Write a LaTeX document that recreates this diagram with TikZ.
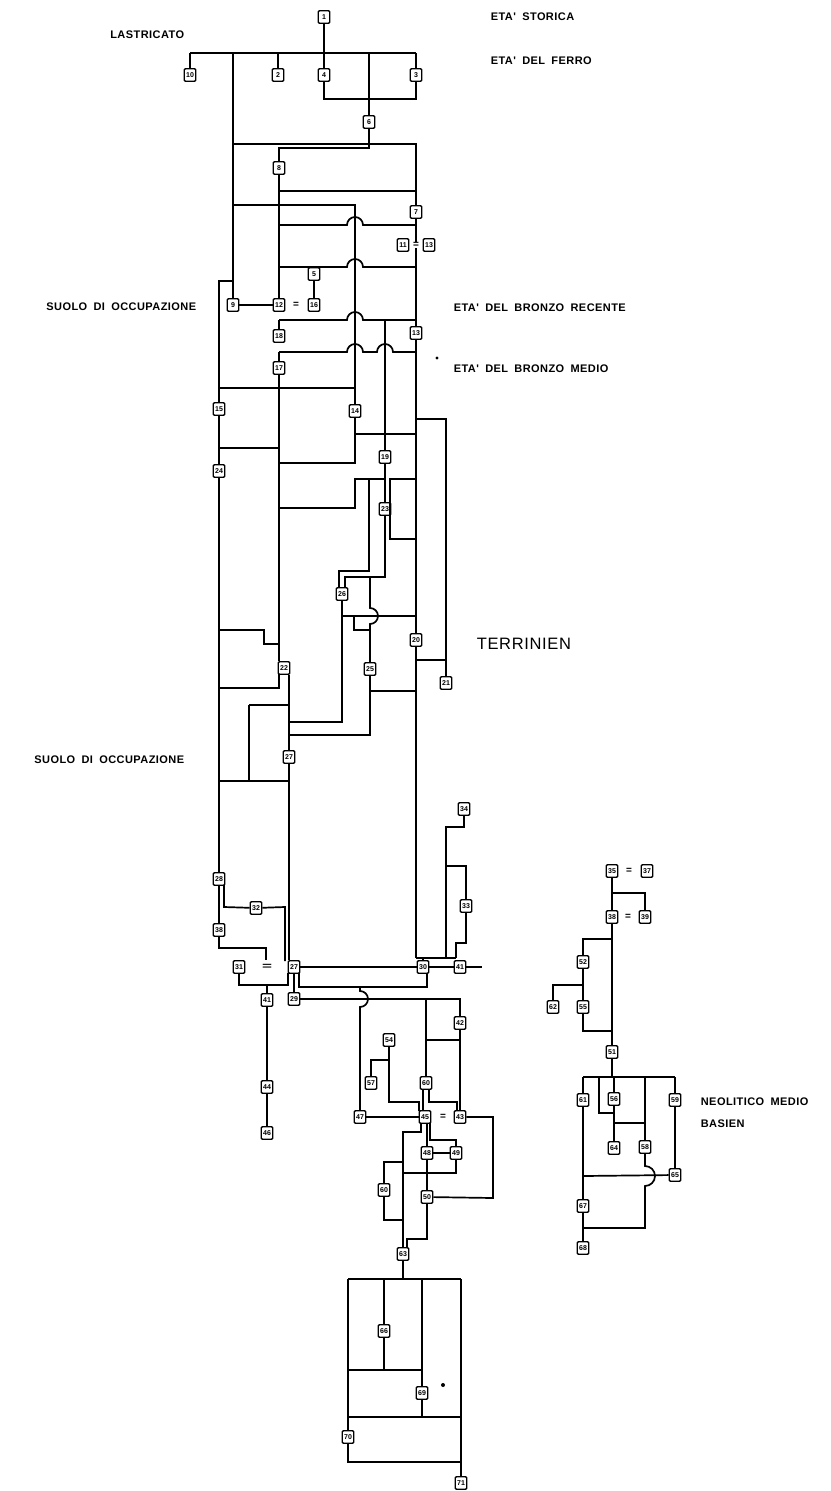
\documentclass[tikz,border=0pt]{standalone}
\usepackage{fontspec}
\usepackage{graphicx}
\setmainfont{Liberation Sans}
\newfontfamily\lblfont{Liberation Sans}[LetterSpace=4,WordSpace=1.8]
\tikzset{
  unit/.style={draw,line width=1.4pt,rounded corners=1.2pt,minimum width=11.5pt,
               minimum height=12.5pt,inner sep=0.6pt,
               font=\bfseries\fontsize{7}{7}\selectfont},
  eqsign/.style={inner sep=0pt,font=\bfseries\fontsize{10}{10}\selectfont},
  period/.style={inner sep=0pt,font=\lblfont\bfseries\fontsize{11}{12}\selectfont},
  culture/.style={inner sep=0pt,anchor=west,font=\lblfont\fontsize{16.5}{18}\selectfont}
}
\begin{document}
\begin{tikzpicture}[x=1pt,y=-1pt,line width=1.7pt]
    \path[use as bounding box] (0,0) rectangle (830,1491);
    \node[period,anchor=east] (lastr) at (185,35) {LASTRICATO};
    \node[period,anchor=west] (stor) at (490,17) {ETA' STORICA};
    \node[period,anchor=west] (ferro) at (490,61) {ETA' DEL FERRO};
    \node[period,anchor=east] (suolo1) at (197,307) {SUOLO DI OCCUPAZIONE};
    \node[period,anchor=west] (brrec) at (453,308) {ETA' DEL BRONZO RECENTE};
    \node[period,anchor=west] (brmed) at (453,369) {ETA' DEL BRONZO MEDIO};
    \node[culture] (terr) at (476,644) {TERRINIEN};
    \node[period,anchor=east] (suolo2) at (185,760) {SUOLO DI OCCUPAZIONE};
    \node[period,anchor=west] (neol) at (700,1102) {NEOLITICO MEDIO};
    \node[period,anchor=west] (basien) at (700,1124) {BASIEN};
    \fill (437,358) circle (1.6);
    \fill (443,1385) circle (2);

    \node[unit] (u1) at (324,17) {1};
    \node[unit] (u10) at (190,75) {10};
    \node[unit] (u2) at (278,75) {2};
    \node[unit] (u4) at (324,75) {4};
    \node[unit] (u3) at (416,75) {3};
    \node[unit] (u6) at (369,122) {6};
    \node[unit] (u8) at (279,168) {8};
    \node[unit] (u7) at (416,212) {7};
    \node[unit] (u11) at (403,245) {11};
    \node[eqsign] (e1) at (416,245) {=};
    \node[unit] (u13) at (429,245) {13};
    \node[unit] (u5) at (314,274) {5};
    \node[unit] (u9) at (233,305) {9};
    \node[unit] (u12) at (279,305) {12};
    \node[eqsign] (e2) at (296,305) {=};
    \node[unit] (u16) at (314,305) {16};
    \node[unit] (u13b) at (416,333) {13};
    \node[unit] (u18) at (279,336) {18};
    \node[unit] (u17) at (279,368) {17};
    \node[unit] (u15) at (219,409) {15};
    \node[unit] (u14) at (355,411) {14};
    \node[unit] (u19) at (385,457) {19};
    \node[unit] (u24) at (219,471) {24};
    \node[unit] (u23) at (385,509) {23};
    \node[unit] (u26) at (342,594) {26};
    \node[unit] (u20) at (416,640) {20};
    \node[unit] (u22) at (284,668) {22};
    \node[unit] (u25) at (370,669) {25};
    \node[unit] (u21) at (446,683) {21};
    \node[unit] (u27) at (289,757) {27};
    \node[unit] (u34) at (464,809) {34};
    \node[unit] (u28) at (219,879) {28};
    \node[unit] (u33) at (466,906) {33};
    \node[unit] (u32) at (256,908) {32};
    \node[unit] (u38) at (219,930) {38};
    \node[unit] (u31) at (239,967) {31};
    \node[eqsign] (e3) at (267,967) {\scalebox{1.7}[1]{=}};
    \node[unit] (u27b) at (294,967) {27};
    \node[unit] (u30) at (423,967) {30};
    \node[unit] (u41) at (460,967) {41};
    \node[unit] (u41b) at (267,1000) {41};
    \node[unit] (u29) at (294,999) {29};
    \node[unit] (u42) at (460,1023) {42};
    \node[unit] (u54) at (389,1040) {54};
    \node[unit] (u40) at (426,1083) {60};
    \node[unit] (u57) at (371,1083) {57};
    \node[unit] (u44) at (267,1087) {44};
    \node[unit] (u47) at (360,1117) {47};
    \node[unit] (u45) at (425,1117) {45};
    \node[eqsign] (e4) at (443,1117) {=};
    \node[unit] (u43) at (460,1117) {43};
    \node[unit] (u46) at (267,1133) {46};
    \node[unit] (u48) at (427,1153) {48};
    \node[unit] (u49) at (456,1153) {49};
    \node[unit] (u60) at (384,1190) {60};
    \node[unit] (u50) at (427,1197) {50};
    \node[unit] (u63) at (403,1254) {63};
    \node[unit] (u66) at (384,1331) {66};
    \node[unit] (u69) at (422,1393) {69};
    \node[unit] (u70) at (348,1437) {70};
    \node[unit] (u71) at (461,1483) {71};

    \node[unit] (u35) at (612,871) {35};
    \node[eqsign] (e5) at (629,871) {=};
    \node[unit] (u37) at (647,871) {37};
    \node[unit] (u38r) at (612,917) {38};
    \node[eqsign] (e6) at (628,917) {=};
    \node[unit] (u39) at (645,917) {39};
    \node[unit] (u52) at (583,962) {52};
    \node[unit] (u62) at (553,1007) {62};
    \node[unit] (u55) at (583,1007) {55};
    \node[unit] (u51) at (612,1052) {51};
    \node[unit] (u61) at (583,1100) {61};
    \node[unit] (u56) at (614,1099) {56};
    \node[unit] (u59) at (675,1100) {59};
    \node[unit] (u64) at (614,1148) {64};
    \node[unit] (u58) at (645,1147) {58};
    \node[unit] (u65) at (675,1175) {65};
    \node[unit] (u67) at (583,1206) {67};
    \node[unit] (u68) at (583,1248) {68};

    \draw (u1) -- (u4);
    \draw (190,53) -- (416,53);
    \draw (190,53) -- (u10);
    \draw (278,53) -- (u2);
    \draw (416,53) -- (u3);
    \draw (369,53) -- (u6);
    \draw (u4) -- (324,99) -| (u3);
    \draw (233,53) -- (u9);
    \draw (233,144) -- (416,144) -- (u7);
    \draw (u6) -- (369,148) -| (u8);
    \draw (u8) -- (u12);
    \draw (279,191) -- (416,191);
    \draw (233,205) -| (u14);
    \draw (279,225) -- (347,225) arc (180:360:8) -- (416,225);
    \draw (u7) -- (e1);
    \draw (e1) -- (u13b);
    \draw (279,267) -- (347,267) arc (180:360:8) -- (416,267);
    \draw (314,267) -- (u5);
    \draw (u5) -- (u16);
    \draw (u9) -- (u12);
    \draw (233,281) -| (u15);
    \draw (279,320) -- (347,320) arc (180:360:8) -- (416,320);
    \draw (279,320) -- (u18);
    \draw (385,320) -- (u19);
    \draw (279,352) -- (347,352) arc (180:360:8) -- (377,352) arc (180:360:8) -- (416,352);
    \draw (279,352) -- (u17);
    \draw (u13b) -- (u20);
    \draw (u20) -- (416,958);
    \draw (u17) -- (u17 |- u22.north);
    \draw (219,388) -- (355,388);
    \draw (u15) -- (u24);
    \draw (219,448) -- (279,448);
    \draw (u14) -- (355,463) -- (279,463);
    \draw (355,434) -- (416,434);
    \draw (416,419) -| (u21);
    \draw (u19) -- (u23);
    \draw (385,479) -- (355,479) -- (355,508) -- (279,508);
    \draw (416,479) -- (390,479) -- (390,539) -- (416,539);
    \draw (369,479) -- (369,571) -- (339,571) -- (339,588);
    \draw (u23) -- (385,577) -- (345,577) -- (345,588);
    \draw (370,577) -- (370,608) arc (-90:90:8) -- (u25);
    \draw (u26) -- (342,722) -- (289,722);
    \draw (342,616) -- (416,616);
    \draw (354,616) -- (354,630) -- (370,630);
    \draw (416,660) -- (446,660);
    \draw (219,630) -- (264,630) -- (264,644) -- (279,644);
    \draw (279,674) -- (279,688) -- (219,688);
    \draw (u22.south -| u27) -- (u27);
    \draw (249,705) -- (289,705);
    \draw (249,705) -- (249,781);
    \draw (219,781) -- (289,781);
    \draw (u25) -- (370,735) -- (289,735);
    \draw (370,691) -- (416,691);
    \draw (u24) -- (u28);
    \draw (u27) -- (u27 |- u27b.north);
    \draw (u28) -- (u38);
    \draw (224,885) -- (224,907) -- (u32);
    \draw (u32) -- (285,907) -- (285,961);
    \draw (u38) -- (219,948) -- (266,948) -- (266,960);
    \draw (u31) -- (239,985) -- (288,985) -- (288,973);
    \draw (267,985) -- (u41b);
    \draw (u41b) -- (u44);
    \draw (u44) -- (u46);
    \draw (u27b) -- (u30);
    \draw (u30) -- (u41);
    \draw (u41.east) -- ++(16,0);
    \draw (416,958) -- (456,958);
    \draw (423,958) -- (u30);
    \draw (u34) -- (464,827) -- (446,827) -- (446,958);
    \draw (446,866) -- (466,866) -- (u33);
    \draw (u33) -- (466,943) -- (456,943) -- (456,958);
    \draw (427,973) -- (427,987) -- (299,987) -- (299,973);
    \draw (u27b) -- (u29);
    \draw (u29) -- (460,999) -- (u42);
    \draw (426,999) -- (u40);
    \draw (u42) -- (u43);
    \draw (460,1040) -- (426,1040);
    \draw (423,1089) -- (423,1111);
    \draw (429,1089) -- (429,1102) -- (457,1102) -- (457,1111);
    \draw (u54) -- (389,1102) -- (419,1102) -- (419,1111);
    \draw (389,1060) -- (371,1060) -- (u57);
    \draw (u47) -- (u45);
    \draw (u47) -- (360,1007) arc (90:-90:8) -- (360,987);
    \draw (u43) -- (493,1117) -- (493,1198) -- (u50);
    \draw (421,1123) -- (421,1132) -- (403,1132) -- (u63);
    \draw (u48 |- u45.south) -- (u48);
    \draw (430,1123) -- (430,1140) -- (456,1140) -- (u49);
    \draw (u48) -- (u49);
    \draw (u49) -- (456,1173) -- (403,1173);
    \draw (u48) -- (u50);
    \draw (403,1162) -- (384,1162) -- (u60);
    \draw (u60) -- (384,1220) -- (403,1220);
    \draw (u50) -- (427,1239) -- (407,1239) -- (407,1248);
    \draw (u63) -- (403,1279);
    \draw (348,1279) -- (461,1279);
    \draw (348,1279) -- (u70);
    \draw (384,1279) -- (u66);
    \draw (u66) -- (384,1370);
    \draw (422,1279) -- (u69);
    \draw (461,1279) -- (u71);
    \draw (348,1370) -- (422,1370);
    \draw (u69) -- (422,1417);
    \draw (348,1417) -- (461,1417);
    \draw (u70) -- (348,1462) -- (461,1462);

    \draw (u35) -- (u38r);
    \draw (612,893) -- (645,893) -- (u39);
    \draw (u38r) -- (u51);
    \draw (612,939) -- (583,939) -- (u52);
    \draw (u52) -- (u55);
    \draw (583,985) -- (553,985) -- (u62);
    \draw (u55) -- (583,1031) -- (612,1031);
    \draw (u51) -- (612,1077);
    \draw (583,1077) -- (675,1077);
    \draw (583,1077) -- (u61);
    \draw (614,1077) -- (u56);
    \draw (599,1077) -- (599,1113) -- (614,1113);
    \draw (645,1077) -- (u58);
    \draw (675,1077) -- (u59);
    \draw (u56) -- (u64);
    \draw (614,1123) -- (645,1123);
    \draw (u59) -- (u65);
    \draw (u61) -- (u67);
    \draw (583,1176) -- (u65);
    \draw (u58) -- (645,1166) arc (-90:90:10) -- (645,1228) -- (583,1228);
    \draw (u67) -- (u68);
  \end{tikzpicture}
\end{document}
